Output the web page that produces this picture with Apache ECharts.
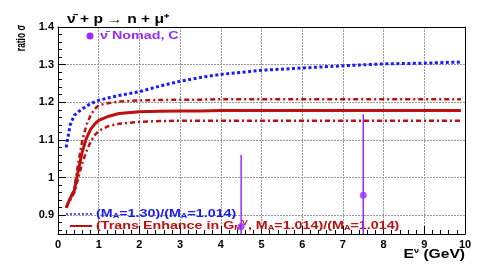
<!DOCTYPE html>
<html><head><meta charset="utf-8">
<script src="https://cdn.jsdelivr.net/npm/echarts@6/dist/echarts.min.js"></script>
<style>html,body{margin:0;padding:0;background:#fff}#c{width:485px;height:277px}</style>
</head><body><div id="c"></div>
<script>
var energy = [0.2,0.3,0.4,0.5,0.6,0.7,0.8,0.9,1.0,1.25,1.5,2,2.5,3,3.5,4,5,6,7,8,9,9.9];
var ratioMA130 = [1.08,1.14,1.165,1.175,1.182,1.19,1.196,1.201,1.205,1.212,1.218,1.228,1.243,1.256,1.266,1.274,1.285,1.291,1.297,1.302,1.304,1.307];
var ratioTE = [0.92,0.945,0.965,1.02,1.07,1.105,1.128,1.142,1.152,1.163,1.170,1.175,1.176,1.177,1.177,1.178,1.178,1.178,1.178,1.178,1.178,1.178];
var ratioTEup = [0.92,0.945,0.97,1.04,1.10,1.14,1.165,1.182,1.192,1.198,1.202,1.205,1.206,1.207,1.207,1.208,1.208,1.208,1.208,1.208,1.208,1.208];
var ratioTElo = [0.92,0.94,0.96,1.0,1.04,1.07,1.095,1.112,1.124,1.137,1.143,1.148,1.150,1.151,1.151,1.151,1.151,1.151,1.151,1.151,1.151,1.151];
var nomadE = [4.5,7.5];
var nomadR = [0.87,0.953];
var nomadErr = [0.19,0.215];
var yMajor = [0.9,1.0,1.1,1.2,1.3,1.4];
var yMinor = [0.86,0.88,0.92,0.94,0.96,0.98,1.02,1.04,1.06,1.08,1.12,1.14,1.16,1.18,1.22,1.24,1.26,1.28,1.32,1.34,1.36,1.38];

function pairs(x,y){return x.map(function(v,i){return [v,y[i]];});}
var BLUE='#1a1aff', RED='#bb1111', PURPLE='#9a2bff';
var FONT='Liberation Sans';
var SX=1.3;
function gridLine(){return {show:true,lineStyle:{color:'#999',width:1,type:[2,1]}};}
var chart = echarts.init(document.getElementById('c'));
chart.setOption({
  animation:false,
  grid:{left:58,right:20,top:27,bottom:43},
  xAxis:[{type:'value',min:0,max:10,interval:1,
    axisLine:{lineStyle:{color:'#000',width:1}},
    axisTick:{inside:true,length:8,lineStyle:{color:'#000'}},
    minorTick:{show:true,splitNumber:5,length:4,lineStyle:{color:'#000'}},
    axisLabel:{color:'#000',fontFamily:FONT,fontWeight:'bold',fontSize:11,margin:5},
    splitLine:gridLine()},
   {type:'value',min:0,max:10,position:'top',axisLine:{show:true,lineStyle:{color:'#000'}},
    axisTick:{show:false},axisLabel:{show:false},splitLine:{show:false}}],
  yAxis:[{type:'value',min:0.85,max:1.4,
    axisLine:{lineStyle:{color:'#000',width:1}},
    axisTick:{inside:true,length:8,lineStyle:{color:'#000'},customValues:yMajor},
    axisLabel:{color:'#000',fontFamily:FONT,fontWeight:'bold',fontSize:11,margin:4,customValues:yMajor,
      formatter:function(v){return (Math.round(v*10)/10).toString();}},
    splitLine:gridLine()},
   {type:'value',min:0.85,max:1.4,position:'left',
    axisLine:{show:false},
    axisTick:{inside:true,length:4,lineStyle:{color:'#000'},customValues:yMinor},
    axisLabel:{show:false},splitLine:{show:false}},
   {type:'value',min:0.85,max:1.4,position:'right',axisLine:{show:true,lineStyle:{color:'#000'}},
    axisTick:{show:false},axisLabel:{show:false},splitLine:{show:false}}],
  series:[
    {type:'line',data:pairs(energy,ratioTEup),showSymbol:false,lineStyle:{color:RED,width:2.5,type:[5,3,2,3]},z:3},
    {type:'line',data:pairs(energy,ratioTElo),showSymbol:false,lineStyle:{color:RED,width:2.5,type:[5,3,2,3]},z:3},
    {type:'line',data:pairs(energy,ratioTE),showSymbol:false,lineStyle:{color:RED,width:3},z:4},
    {type:'line',data:pairs(energy,ratioMA130),showSymbol:false,lineStyle:{color:BLUE,width:3,type:[3,2.5]},z:4},
    {type:'custom',clip:true,z:20,
      data:nomadE.map(function(e,i){return [e,nomadR[i]-nomadErr[i],nomadR[i]+nomadErr[i]];}),
      renderItem:function(params,api){
        var lo=api.coord([api.value(0),api.value(1)]);
        var hi=api.coord([api.value(0),api.value(2)]);
        return {type:'line',shape:{x1:lo[0],y1:lo[1],x2:hi[0],y2:hi[1]},style:{stroke:PURPLE,lineWidth:1.5}};
      }},
    {type:'scatter',data:pairs(nomadE,nomadR),symbol:'circle',symbolSize:7,itemStyle:{color:PURPLE},z:21}
  ],
  graphic:[
    {type:'text',x:67,y:20,scaleX:SX,style:{text:'ν̄ + p → n + μ⁺',font:'bold 12px '+FONT,fill:'#000',verticalAlign:'middle'}},
    {type:'text',x:22,y:38,rotation:Math.PI/2,scaleX:0.7,style:{text:'ratio σ',font:'bold 12px '+FONT,fill:'#000',align:'center',verticalAlign:'middle'}},
    {type:'circle',shape:{cx:90,cy:36,r:3.5},style:{fill:PURPLE}},
    {type:'text',x:100,y:36,scaleX:SX,style:{text:'ν̄ Nomad, C',font:'bold 11px '+FONT,fill:PURPLE,verticalAlign:'middle'}},
    {type:'line',shape:{x1:66,y1:214,x2:93,y2:214},style:{stroke:BLUE,lineWidth:1.5,lineDash:[2,2]}},
    {type:'text',x:96,y:214,scaleX:SX,z:1,style:{verticalAlign:'middle',rich:{
        n:{font:'bold 11px '+FONT,fill:BLUE},s:{font:'bold 7px '+FONT,fill:BLUE,padding:[5,0,0,0]}},
      text:'{n|(M}{s|A}{n|=1.30)/(M}{s|A}{n|=1.014)}'}},
    {type:'line',shape:{x1:70,y1:226,x2:92,y2:226},style:{stroke:RED,lineWidth:2}},
    {type:'text',x:96,y:226,scaleX:SX,z:1,style:{verticalAlign:'middle',rich:{
        n:{font:'bold 11px '+FONT,fill:RED},s:{font:'bold 7px '+FONT,fill:RED,padding:[5,0,0,0]},u:{font:'bold 7px '+FONT,fill:RED,padding:[0,0,6,0]}},
      text:'{n|(Trans Enhance in G}{s|M}{u|V}{n|, M}{s|A}{n|=1.014)/(M}{s|A}{n|=1.014)}'}},
    {type:'text',x:465,y:255,scaleX:SX,style:{align:'right',verticalAlign:'middle',rich:{n:{font:'bold 12px '+FONT,fill:'#000'},u:{font:'bold 7px '+FONT,fill:'#000',padding:[0,0,7,0]}},
      text:'{n|E}{u|ν}{n| (GeV)}'}}
  ]
});
</script></body></html>
